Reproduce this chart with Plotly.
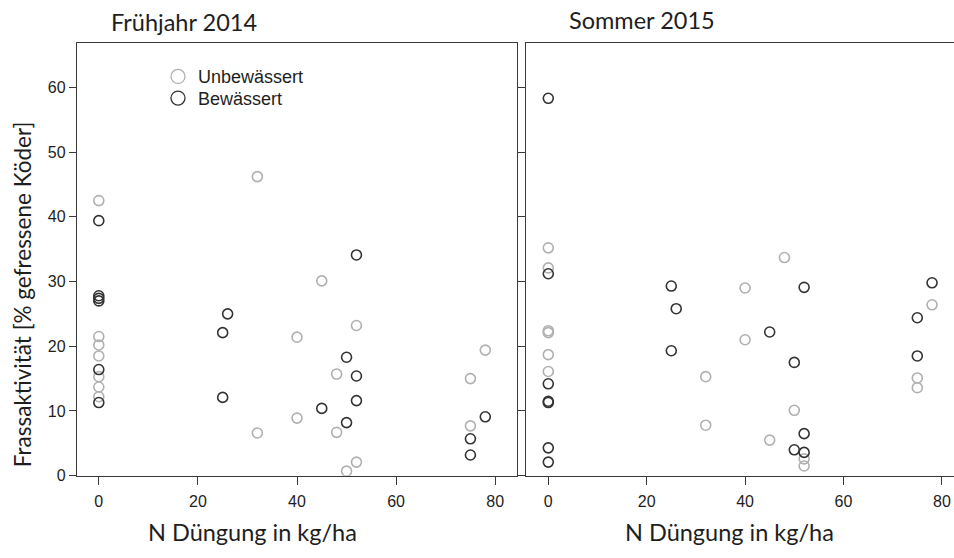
import plotly.graph_objects as go

# Frühjahr 2014
fr_unb_x = [0, 0, 0, 0, 0, 0, 0, 32, 32, 40, 40, 45, 48, 48, 50, 52, 52, 75, 75, 78]
fr_unb_y = [42.5, 21.5, 20.2, 18.5, 15.3, 13.7, 12.2, 46.2, 6.6, 21.4, 8.9, 30.1, 15.7, 6.7, 0.7, 23.2, 2.1, 15.0, 7.7, 19.4]
fr_bew_x = [0, 0, 0, 0, 0, 0, 25, 25, 26, 45, 50, 50, 52, 52, 52, 75, 75, 78]
fr_bew_y = [39.4, 27.8, 27.4, 27.0, 16.4, 11.3, 22.1, 12.1, 25.0, 10.4, 18.3, 8.2, 34.1, 15.4, 11.6, 5.7, 3.2, 9.1]

# Sommer 2015
so_unb_x = [0, 0, 0, 0, 0, 0, 32, 32, 40, 40, 45, 48, 50, 52, 52, 75, 75, 78]
so_unb_y = [35.2, 32.1, 22.4, 22.1, 18.7, 16.1, 15.3, 7.8, 29.0, 21.0, 5.5, 33.7, 10.1, 2.6, 1.5, 15.1, 13.6, 26.4]
so_bew_x = [0, 0, 0, 0, 0, 0, 0, 25, 25, 26, 45, 50, 50, 52, 52, 52, 75, 75, 78]
so_bew_y = [58.3, 31.2, 14.2, 11.5, 11.3, 4.3, 2.1, 29.3, 19.3, 25.8, 22.2, 17.5, 4.0, 29.1, 6.5, 3.6, 24.4, 18.5, 29.8]

x_ticks = [0, 20, 40, 60, 80]
y_ticks = [0, 10, 20, 30, 40, 50, 60]

groups = ["Unbewässert", "Bewässert"]
colors = {"Unbewässert": "#b0b0b0", "Bewässert": "#333333"}
legend_ids = {"Unbewässert": "legend", "Bewässert": "legend2"}

LINE = "#3a3a3a"
TXT = "#1e1e1e"

fig = go.Figure()

panels = [
    ("x", "y", {"Unbewässert": (fr_unb_x, fr_unb_y), "Bewässert": (fr_bew_x, fr_bew_y)}),
    ("x2", "y2", {"Unbewässert": (so_unb_x, so_unb_y), "Bewässert": (so_bew_x, so_bew_y)}),
]
for xa, ya, data in panels:
    for g in groups:
        xs, ys = data[g]
        fig.add_trace(go.Scatter(
            x=xs, y=ys, xaxis=xa, yaxis=ya, mode="markers", showlegend=False,
            marker=dict(symbol="circle-open", size=10, color=colors[g],
                        line=dict(width=1.6, color=colors[g])),
        ))

# legend entries with larger symbols, one legend box per row
for g in groups:
    fig.add_trace(go.Scatter(
        x=[None], y=[None], mode="markers", name=g, legend=legend_ids[g],
        marker=dict(symbol="circle-open", size=14, color=colors[g],
                    line=dict(width=1.3, color=colors[g])),
    ))

tickfont = dict(family="Liberation Sans, Arial, sans-serif", size=16, color=TXT)

ydom = [1 - 483.5 / 558, 1 - 44 / 558]
yrange = [0, 66.8]

common_x = dict(tickvals=x_ticks, ticks="outside", ticklen=8, tickwidth=1.3, tickcolor=LINE,
                showline=True, linecolor=LINE, linewidth=1.3, showgrid=False, zeroline=False,
                tickfont=tickfont, ticklabelstandoff=3)
common_y = dict(range=yrange, domain=ydom, tickvals=y_ticks, ticks="outside", tickwidth=1.3,
                tickcolor=LINE, showline=True, linecolor=LINE, linewidth=1.3,
                showgrid=False, zeroline=False, tickfont=tickfont)

title_font = dict(family="Lato, Open Sans, sans-serif", size=23.5, color=TXT)
ytitle_font = dict(family="Lato, Open Sans, sans-serif", size=22.5, color=TXT)
legend_font = dict(family="Liberation Sans, Arial, sans-serif", size=18, color=TXT)

legend_box = dict(x=(178 - 20) / 954, xanchor="left", yanchor="middle",
                  bgcolor="rgba(0,0,0,0)", borderwidth=0, font=legend_font, itemwidth=30)

fig.update_layout(
    width=954, height=558,
    margin=dict(l=0, r=0, t=0, b=0),
    paper_bgcolor="white", plot_bgcolor="white",
    xaxis=dict(domain=[77 / 954, 517 / 954], range=[-4.4, 84.4], anchor="y", mirror=True, **common_x),
    yaxis=dict(anchor="x", mirror=True, ticklen=7, **common_y),
    xaxis2=dict(domain=[526 / 954, 1.0], range=[-4.53, 82.46], anchor="y2", mirror=True, **common_x),
    yaxis2=dict(anchor="x2", mirror=False, ticklen=8, showticklabels=False, **common_y),
    legend=dict(y=1 - 78 / 558, **legend_box),
    legend2=dict(y=1 - 100 / 558, **legend_box),
    annotations=[
        dict(text="Frühjahr 2014", x=184 / 954, y=1 - 22 / 558, xref="paper", yref="paper",
             showarrow=False, font=title_font, xanchor="center", yanchor="middle"),
        dict(text="Sommer 2015", x=642 / 954, y=1 - 20 / 558, xref="paper", yref="paper",
             showarrow=False, font=title_font, xanchor="center", yanchor="middle"),
        dict(text="N Düngung in kg/ha", x=252 / 954, y=1 - 541 / 558, xref="paper", yref="paper",
             showarrow=False, font=title_font, xanchor="center", yanchor="middle"),
        dict(text="N Düngung in kg/ha", x=729 / 954, y=1 - 541 / 558, xref="paper", yref="paper",
             showarrow=False, font=title_font, xanchor="center", yanchor="middle"),
        dict(text="Frassaktivität [% gefressene Köder]", x=22 / 954, y=1 - 299 / 558,
             xref="paper", yref="paper", showarrow=False, textangle=-90, font=ytitle_font,
             xanchor="center", yanchor="middle"),
    ],
)

fig.write_html("out.html")
